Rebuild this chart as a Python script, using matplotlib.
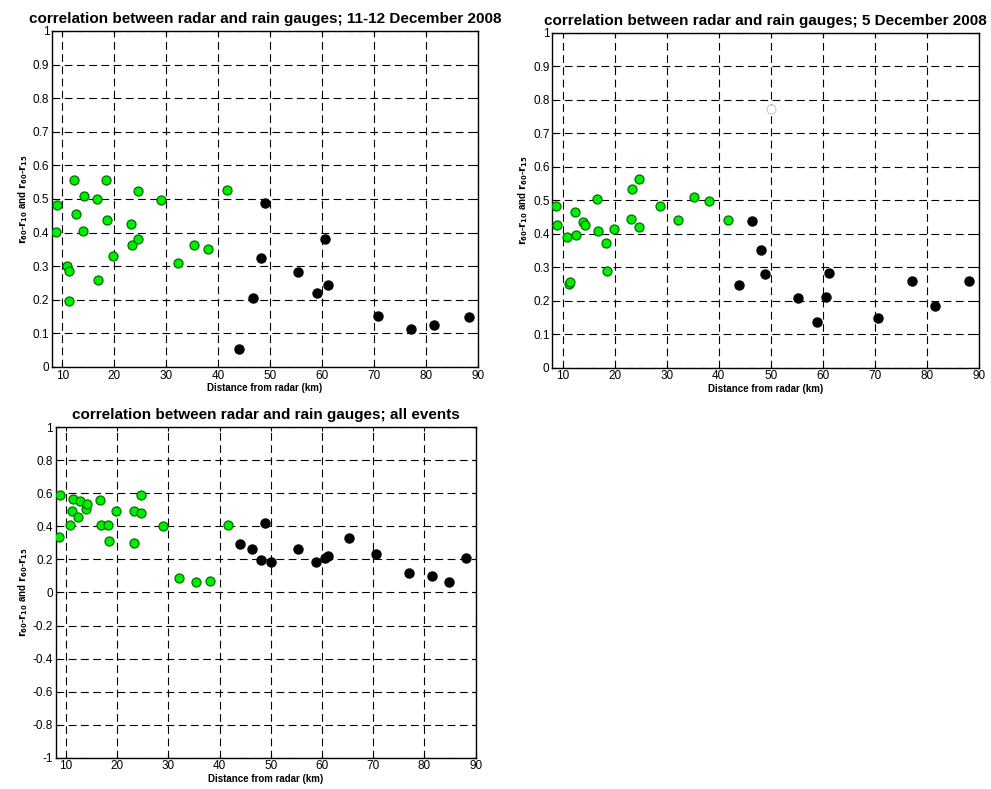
import numpy as np
import matplotlib
matplotlib.use("Agg")
from matplotlib import pyplot as plt

plt.rcParams['font.family'] = ['Liberation Sans', 'DejaVu Sans']

# 11-12 December 2008
dec11_near_x = [8.9, 8.8, 12.3, 12.6, 14.2, 14.0, 16.6, 18.4, 18.5, 10.8, 11.2, 11.3, 16.8, 19.8,
                23.2, 23.4, 24.6, 24.6, 28.9, 32.2, 35.3, 38.1, 41.7]
dec11_near_y = [0.482, 0.403, 0.557, 0.455, 0.510, 0.406, 0.499, 0.557, 0.437, 0.300, 0.285, 0.197,
                0.258, 0.331, 0.425, 0.364, 0.523, 0.381, 0.496, 0.308, 0.364, 0.352, 0.528]
dec11_far_x = [48.9, 48.2, 44.0, 46.6, 55.4, 59.0, 60.6, 61.2, 70.7, 77.1, 81.5, 88.3]
dec11_far_y = [0.487, 0.325, 0.053, 0.206, 0.284, 0.220, 0.381, 0.244, 0.153, 0.114, 0.126, 0.150]

# 5 December 2008
dec5_near_x = [8.7, 8.9, 10.8, 11.3, 11.4, 12.3, 12.6, 14.0, 14.2, 16.6, 16.8, 18.3, 18.5, 19.8,
               23.2, 23.4, 24.6, 24.6, 28.8, 32.1, 35.3, 38.1, 41.7]
dec5_near_y = [0.484, 0.425, 0.390, 0.250, 0.255, 0.466, 0.396, 0.434, 0.425, 0.503, 0.407, 0.372,
               0.290, 0.413, 0.445, 0.535, 0.565, 0.419, 0.484, 0.442, 0.509, 0.499, 0.442]
dec5_far_x = [46.5, 48.1, 48.9, 44.0, 55.3, 58.9, 60.6, 61.2, 70.6, 77.1, 81.5, 88.2]
dec5_far_y = [0.439, 0.351, 0.281, 0.248, 0.207, 0.137, 0.210, 0.284, 0.149, 0.260, 0.184, 0.260]
dec5_missing_x = [50.0]
dec5_missing_y = [0.774]

# all events
all_near_x = [8.9, 8.7, 10.8, 11.1, 11.3, 12.3, 12.7, 14.0, 14.2, 16.6, 16.8, 18.3, 18.5, 19.8,
              23.2, 23.3, 24.6, 24.6, 28.9, 32.1, 35.3, 38.1, 41.7]
all_near_y = [0.590, 0.334, 0.409, 0.491, 0.568, 0.459, 0.556, 0.504, 0.538, 0.562, 0.409, 0.409,
              0.310, 0.495, 0.298, 0.491, 0.479, 0.590, 0.403, 0.086, 0.064, 0.070, 0.407]
all_far_x = [48.9, 43.9, 46.4, 48.1, 50.1, 55.3, 58.8, 60.6, 61.2, 65.2, 70.6, 77.0, 81.5, 84.8, 88.2]
all_far_y = [0.419, 0.292, 0.263, 0.199, 0.187, 0.263, 0.183, 0.207, 0.221, 0.328, 0.233, 0.116,
             0.100, 0.064, 0.209]

xticks = [10, 20, 30, 40, 50, 60, 70, 80, 90]
yticks_top = [0, 0.1, 0.2, 0.3, 0.4, 0.5, 0.6, 0.7, 0.8, 0.9, 1]
yticks_all = [-1, -0.8, -0.6, -0.4, -0.2, 0, 0.2, 0.4, 0.6, 0.8, 1]
ylab = r'$\mathbf{r_{60}}$-$\mathbf{r_{10}}$ and $\mathbf{r_{60}}$-$\mathbf{r_{15}}$'


def panel(ax, title, nx, ny, fx, fy, ylim, yticks, extra=None):
    ax.plot(nx, ny, 'o', ms=6.5, mfc='#00ee00', mec='#007000', mew=0.9, zorder=3)
    ax.plot(fx, fy, 'o', ms=6.5, mfc='black', mec='black', zorder=3)
    if extra is not None:
        ax.plot(extra[0], extra[1], 'o', ms=6.5, mfc='white', mec='#c8c8c8', mew=0.8, zorder=3)
    ax.set_xlim(8, 90)
    ax.set_ylim(*ylim)
    ax.set_xticks(xticks)
    ax.set_yticks(yticks)
    ax.set_yticklabels([str(t) for t in yticks])
    ax.grid(True, color='black', linestyle=(0, (7, 4)), linewidth=0.8)
    ax.tick_params(direction='in', top=True, right=True, labelsize=8.5, length=3, pad=2)
    for s in ax.spines.values():
        s.set_linewidth(1.0)
    ax.set_title(title, fontsize=11, fontweight='bold', pad=6)
    ax.set_xlabel('Distance from radar (km)', fontsize=7, fontweight='bold', labelpad=1)
    ax.set_ylabel(ylab, fontsize=7, fontweight='bold', labelpad=2)


fig = plt.figure(figsize=(9.91, 7.89), dpi=100)
ax1 = fig.add_axes([0.0525, 0.5349, 0.430, 0.4259])
ax2 = fig.add_axes([0.5573, 0.534, 0.4303, 0.4242])
ax3 = fig.add_axes([0.0562, 0.0397, 0.4238, 0.4188])

panel(ax1, 'correlation between radar and rain gauges; 11-12 December 2008',
      dec11_near_x, dec11_near_y, dec11_far_x, dec11_far_y, (0, 1), yticks_top)
panel(ax2, 'correlation between radar and rain gauges; 5 December 2008',
      dec5_near_x, dec5_near_y, dec5_far_x, dec5_far_y, (0, 1), yticks_top,
      extra=(dec5_missing_x, dec5_missing_y))
panel(ax3, 'correlation between radar and rain gauges; all events',
      all_near_x, all_near_y, all_far_x, all_far_y, (-1, 1), yticks_all)

fig.savefig('out.png', dpi=100)
